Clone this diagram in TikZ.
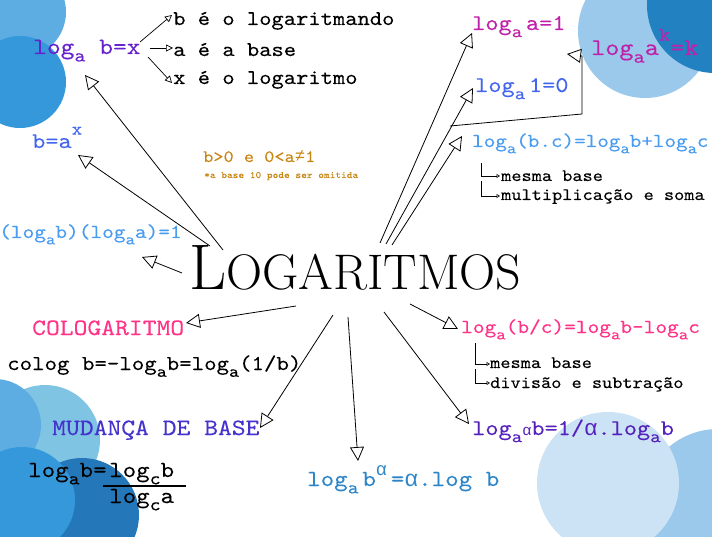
\documentclass[tikz,border=0pt]{standalone}
\usepackage{fontspec}
\usepackage{graphicx}
\setmonofont[FakeStretch=1.12,FakeBold=0.12]{lmmono10-regular.otf}
\newfontfamily\lmo{Liberation Mono}
\usetikzlibrary{arrows.meta}
\newcommand\fsz[1]{\fontsize{#1}{#1}\selectfont}
\newcommand\sbs[1]{\raisebox{-0.32em}{\scalebox{0.8}{#1}}}
\newcommand\sps[1]{\raisebox{0.6em}{\scalebox{0.8}{#1}}}
\newcommand\alp{{\lmo α}}
\definecolor{cpurple}{RGB}{102,34,204}
\definecolor{cblue}{RGB}{68,102,238}
\definecolor{clblue}{RGB}{74,156,240}
\definecolor{corange}{RGB}{200,134,20}
\definecolor{cmagenta}{RGB}{190,34,170}
\definecolor{cpink}{RGB}{255,51,136}
\definecolor{cviolet}{RGB}{68,51,204}
\definecolor{csteel}{RGB}{46,134,200}
\definecolor{cindigo}{RGB}{85,34,187}
\definecolor{k1}{RGB}{93,173,226}
\definecolor{k2}{RGB}{52,152,219}
\definecolor{k3}{RGB}{155,201,236}
\definecolor{k4}{RGB}{34,129,192}
\definecolor{k5}{RGB}{127,196,227}
\definecolor{k6}{RGB}{36,120,185}
\definecolor{k7}{RGB}{204,227,245}
\tikzset{
  txt/.style={anchor=base west, inner sep=0pt, font=\ttfamily\fsz{#1}},
  bigarr/.style={-{Triangle[open,length=14pt,width=14pt]}, line width=0.8pt},
  smarr/.style={-{Triangle[open,length=7pt,width=7pt]}, line width=0.7pt},
  tinyarr/.style={-{Triangle[open,length=3.5pt,width=4pt]}, line width=0.6pt},
}
\begin{document}
\begin{tikzpicture}[x=1pt,y=-1pt]
\useasboundingbox (0,0) rectangle (712,537);
% background circles
\fill[k1] (20,12) circle (46);
\fill[k2] (20,82) circle (46);
\fill[k3] (645,31) circle (67);
\fill[k4] (715,5) circle (68);
\fill[k5] (45,440) circle (55);
\fill[k1] (-5,425) circle (46);
\fill[k6] (82,515) circle (57);
\fill[k2] (22,500) circle (53);
\fill[k3] (718,505) circle (76);
\fill[k7] (608,483) circle (71);

% title
\node[anchor=base west, inner sep=0pt] (title) at (189,290) {\resizebox{332pt}{!}{\fsz{58}L\fsz{45}OGARITMOS}};

% top-left group
\node[txt=23.4, text=cpurple] (def) at (33,54) {log\sbs{a} b=x};
\node[txt=20.9] (t1) at (173,25) {b é o logaritmando};
\node[txt=20.9] (t2) at (173,56) {a é a base};
\node[txt=20.9] (t3) at (173,84) {x é o logaritmo};
\coordinate (d1) at (140,42); \coordinate (e1) at (172,15);
\coordinate (d2) at (150,48); \coordinate (e2) at (173,48);
\coordinate (d3) at (148,57); \coordinate (e3) at (172,83);
\draw[smarr] (d1) -- (e1);
\draw[smarr] (d2) -- (e2);
\draw[smarr] (d3) -- (e3);

\node[txt=22.4, text=cblue] (pow) at (32,148) {b=a\sps{x}};
\node[txt=19.9, text=clblue] (inv) at (-1,238) {(log\sbs{a}b)(log\sbs{a}a)=1};
\node[txt=17.3, text=corange] (cond) at (203,162) {b>0 e 0<a{\lmo ≠}1};
\node[txt=9.7, text=corange] (note) at (204,178) {*a base 10 pode ser omitida};

% top-right group
\node[txt=22.4, text=cmagenta] (p1) at (472,30) {log\sbs{a}\,a=1};
\node[txt=24, text=cmagenta] (p2) at (591,55) {log\sbs{a}a\sps{k}=k};
\node[txt=22.4, text=cblue] (p3) at (475,92) {log\sbs{a}\,1=0};
\node[txt=19.7, text=clblue] (p4) at (472,147) {log\sbs{a}(b.c)=log\sbs{a}b+log\sbs{a}c};
\node[txt=17.3] (m1) at (501,181) {mesma base};
\node[txt=17.3] (m2) at (501,200) {multiplicação e soma};
\coordinate (m1a) at (481,163); \coordinate (m1b) at (481,176); \coordinate (m1c) at (500,176);
\coordinate (m2a) at (481,181); \coordinate (m2b) at (481,196); \coordinate (m2c) at (500,196);
\draw[tinyarr] (m1a) -- (m1b) -- (m1c);
\draw[tinyarr] (m2a) -- (m2b) -- (m2c);

% bottom-right group
\node[txt=19.9, text=cpink] (q1) at (461,333) {log\sbs{a}(b/c)=log\sbs{a}b-log\sbs{a}c};
\node[txt=17.3] (n1) at (490,368) {mesma base};
\node[txt=17.3] (n2) at (490,388) {divisão e subtração};
\coordinate (n1a) at (475,343); \coordinate (n1b) at (475,364); \coordinate (n1c) at (490,364);
\coordinate (n2a) at (475,369); \coordinate (n2b) at (475,383); \coordinate (n2c) at (490,383);
\draw[tinyarr] (n1a) -- (n1b) -- (n1c);
\draw[tinyarr] (n2a) -- (n2b) -- (n2c);
\node[txt=22.4, text=cindigo] (q2) at (472,435) {log\sbs{a\raisebox{0.35em}{\scalebox{0.85}{\alp}}}b=1/\alp.log\sbs{a}b};
\node[txt=23, text=csteel] (q3) at (307,486) {log\sbs{a}\,b\raisebox{0.45em}{\scalebox{0.8}{\alp}}\,=\alp.log b};

% bottom-left group
\node[txt=23.5, text=cpink] (colo) at (32,335) {COLOGARITMO};
\node[txt=21.2] (colf) at (7,370) {colog b=-log\sbs{a}b=log\sbs{a}(1/b)};
\node[txt=23.5, text=cviolet] (mud) at (52,435) {MUDANÇA DE BASE};
\node[txt=23] (mf1) at (28,477) {log\sbs{a}b=};
\node[txt=23] (mf2) at (109,477) {log\sbs{c}b};
\node[txt=23] (mf3) at (109,503) {log\sbs{c}a};
\coordinate (fb1) at (103,486); \coordinate (fb2) at (186,486);
\draw[line width=1.6pt] (fb1) -- (fb2);

% big connectors from the title
\coordinate (s1) at (223,250); \coordinate (g1) at (85,75);
\coordinate (s2) at (210,246); \coordinate (g2) at (78,155);
\coordinate (s3) at (182,273); \coordinate (g3) at (142,257);
\coordinate (s4) at (380,243); \coordinate (g4) at (472,33);
\coordinate (s5) at (386,244); \coordinate (g5) at (473,88);
\coordinate (br) at (450,126); \coordinate (bc) at (582,114); \coordinate (bu) at (582,56);
\coordinate (bt) at (567,54);
\coordinate (s6) at (392,245); \coordinate (g6) at (462,136);
\coordinate (s7) at (410,304); \coordinate (g7) at (458,329);
\coordinate (s8) at (384,312); \coordinate (g8) at (469,424);
\coordinate (s9) at (348,317); \coordinate (g9) at (358,461);
\coordinate (s10) at (333,315); \coordinate (g10) at (260,428);
\coordinate (s11) at (296,306); \coordinate (g11) at (186,323);
\draw[bigarr] (s1) -- (g1);
\draw[bigarr] (s2) -- (g2);
\draw[bigarr] (s3) -- (g3);
\draw[bigarr] (s4) -- (g4);
\draw[bigarr] (s5) -- (g5);
\draw[line width=0.8pt] (br) -- (bc) -- (bu);
\draw[bigarr] (bu) -- (bt);
\draw[bigarr] (s6) -- (g6);
\draw[bigarr] (s7) -- (g7);
\draw[bigarr] (s8) -- (g8);
\draw[bigarr] (s9) -- (g9);
\draw[bigarr] (s10) -- (g10);
\draw[bigarr] (s11) -- (g11);
\end{tikzpicture}
\end{document}
